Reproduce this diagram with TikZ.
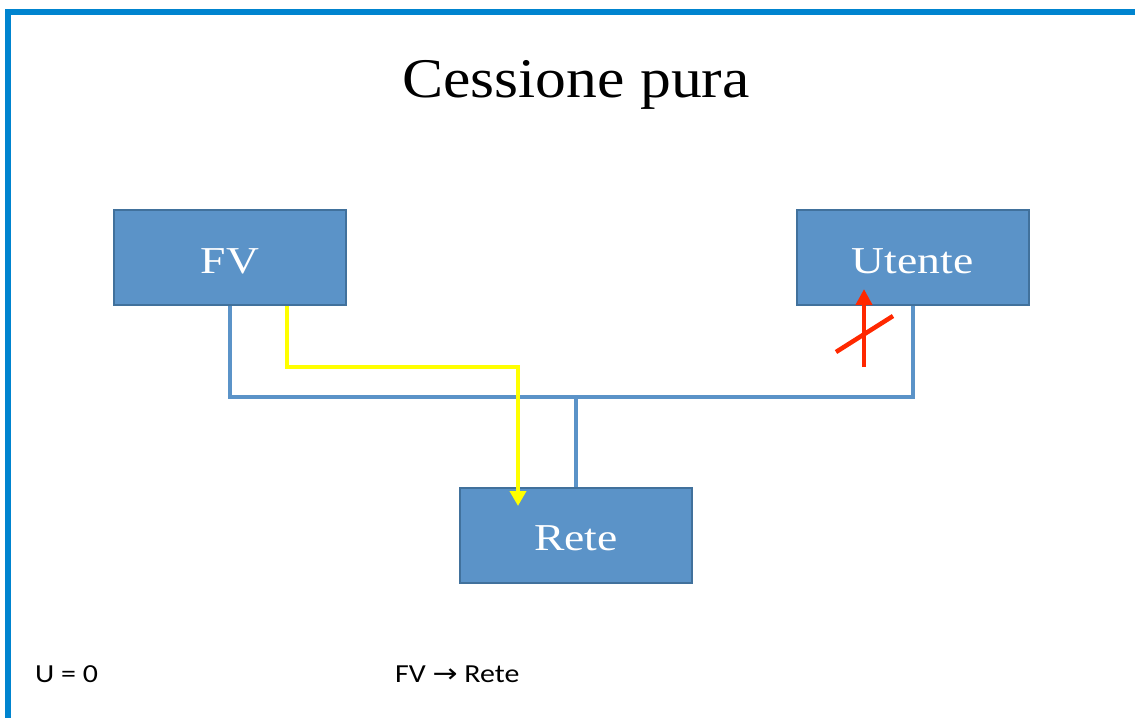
\documentclass[tikz,border=0pt]{standalone}
\usepackage{fontspec}
\setmainfont{Liberation Serif}
\newfontfamily\notefont{Carlito}
\newfontfamily\symfont{DejaVu Sans}
\usepackage{tikz}
\usetikzlibrary{positioning,arrows.meta,calc}
\definecolor{framecol}{RGB}{0,132,207}
\definecolor{boxfill}{RGB}{91,147,200}
\definecolor{boxline}{RGB}{65,113,156}
\definecolor{flowyel}{RGB}{255,255,0}
\definecolor{stopred}{RGB}{255,40,0}
\newcommand{\wide}[1]{\scalebox{1.2}[1]{#1}}

\begin{document}
\begin{tikzpicture}[x=1pt,y=-1pt,
    blk/.style={shape=rectangle, fill=boxfill, draw=boxline, line width=2pt, minimum width=232pt, minimum height=95pt, text=white, text height=31pt, text depth=0pt, font=\fontsize{38}{38}\selectfont},
    wire/.style={draw=boxfill, line width=4pt},
    flow/.style={draw=flowyel, line width=4pt, -{Triangle[length=15pt,width=16pt]}},
    blocked/.style={draw=stopred, line width=4.5pt},
    note/.style={anchor=base west, inner sep=0pt, font=\notefont\fontsize{26}{26}\selectfont},
  ]
    \fill[white] (0,0) rectangle (1135,718);
    \useasboundingbox (0,0) rectangle (1135,718);
    % frame
    \draw[framecol, line width=6pt] (5,12) -- (1135,12);
    \draw[framecol, line width=6pt] (8,9) -- (8,718);
    % title
    \node[anchor=base] (title) at (576,97) {\fontsize{56}{56}\selectfont\scalebox{1.1}[1]{Cessione pura}};
    % blocks
    \node[blk] (fv) at (230,257.5) {\wide{FV}};
    \node[blk] (utente) at (912.5,257.5) {\wide{Utente}};
    \node[blk] (rete) at (576,535) {\wide{Rete}};
    % wiring
    \coordinate (bus) at (576,397);
    \draw[wire] (fv.south) |- (bus) -| (utente.south);
    \draw[wire] (bus) -- (rete.north);
    % power flow
    \coordinate (ymid) at (518,367);
    \coordinate (yend) at (518,506);
    \draw[flow] ([xshift=57pt]fv.south) |- (ymid) -- (yend);
    % no flow to user
    \coordinate (rbase) at (864,367);
    \coordinate (rtip) at (864,289);
    \draw[blocked, -{Triangle[length=16pt,width=16pt]}] (rbase) -- (rtip);
    \coordinate (sl1) at (836,352);
    \coordinate (sl2) at (893,316);
    \draw[blocked] (sl1) -- (sl2);
    % notes
    \node[note] (unote) at (35,682) {\scalebox{1.15}[1]{U = 0}};
    \node[note] (fnote) at (395,682) {\scalebox{1.15}[1]{FV {\symfont\fontsize{26}{26}\selectfont →} Rete}};
\end{tikzpicture}
\end{document}
